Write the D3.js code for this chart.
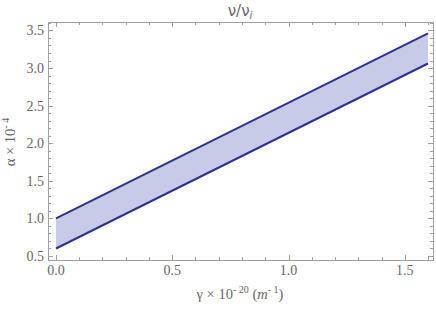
<!DOCTYPE html>
<html>
<head>
<meta charset="UTF-8">
<script src="https://cdn.jsdelivr.net/npm/d3@7"></script>
<style>
  html, body { margin: 0; padding: 0; background: #fff; }
  svg { display: block; }
</style>
</head>
<body>
<div id="chart"></div>
<script>
  // band edges
  const gamma = [0, 0.4, 0.8, 1.2, 1.6];
  const upper = [1.0, 1.615, 2.23, 2.845, 3.46];
  const lower = [0.6, 1.215, 1.83, 2.445, 3.06];
  const xTicks = [0, 0.5, 1.0, 1.5];
  const yTicks = [0.5, 1.0, 1.5, 2.0, 2.5, 3.0, 3.5];

  const W = 436, H = 309;
  const fx0 = 48, fx1 = 433, fy0 = 22, fy1 = 260;

  const x = d3.scaleLinear().domain([-0.0344, 1.6215]).range([fx0, fx1]);
  const y = d3.scaleLinear().domain([0.447, 3.612]).range([fy1, fy0]);

  const svg = d3.select('#chart').append('svg')
    .attr('width', W).attr('height', H);

  const pts = gamma.map((g, i) => ({g, lo: lower[i], hi: upper[i]}));

  svg.append('path')
    .datum(pts)
    .attr('fill', '#c6cbe8')
    .attr('d', d3.area().x(d => x(d.g)).y0(d => y(d.lo)).y1(d => y(d.hi)));

  const line = key => d3.line().x(d => x(d.g)).y(d => y(d[key]));
  ['hi', 'lo'].forEach(k => {
    svg.append('path')
      .datum(pts)
      .attr('fill', 'none')
      .attr('stroke', '#2e3192')
      .attr('stroke-width', 2)
      .attr('d', line(k));
  });

  // frame
  svg.append('rect')
    .attr('x', fx0 + 0.5).attr('y', fy0 + 0.5)
    .attr('width', fx1 - fx0).attr('height', fy1 - fy0)
    .attr('fill', 'none').attr('stroke', '#a0a0a0').attr('stroke-width', 1);

  const tickCol = '#a0a0a0';
  const g = svg.append('g').attr('stroke', tickCol).attr('stroke-width', 1);
  // x ticks (major + minor), inward on top and bottom
  d3.range(0, 1.61, 0.1).forEach(v => {
    const major = Math.abs(v * 2 - Math.round(v * 2)) < 1e-6;
    const len = major ? 5 : 3;
    const px = Math.round(x(v)) + 0.5;
    g.append('line').attr('x1', px).attr('x2', px).attr('y1', fy1).attr('y2', fy1 - len);
    g.append('line').attr('x1', px).attr('x2', px).attr('y1', fy0).attr('y2', fy0 + len);
  });
  d3.range(0.5, 3.61, 0.1).forEach(v => {
    const major = Math.abs(v * 2 - Math.round(v * 2)) < 1e-6;
    const len = major ? 5 : 3;
    const py = Math.round(y(v)) + 0.5;
    g.append('line').attr('y1', py).attr('y2', py).attr('x1', fx0).attr('x2', fx0 + len);
    g.append('line').attr('y1', py).attr('y2', py).attr('x1', fx1).attr('x2', fx1 - len);
  });

  const serif = '"Liberation Serif", "DejaVu Serif", serif';
  const labCol = '#666';

  svg.append('g').selectAll('text').data(xTicks).join('text')
    .attr('x', d => x(d)).attr('y', 275)
    .attr('text-anchor', 'middle')
    .attr('font-family', serif).attr('font-size', 14).attr('fill', labCol)
    .text(d => d.toFixed(1));

  svg.append('g').selectAll('text').data(yTicks).join('text')
    .attr('x', 44).attr('y', d => y(d) + 5)
    .attr('text-anchor', 'end')
    .attr('font-family', serif).attr('font-size', 14).attr('fill', labCol)
    .text(d => d.toFixed(1));

  // title
  const title = svg.append('text')
    .attr('x', 240).attr('y', 16).attr('text-anchor', 'middle')
    .attr('font-family', '"DejaVu Sans", sans-serif').attr('font-size', 15).attr('fill', labCol);
  title.append('tspan').text('ν/ν');
  title.append('tspan').attr('font-size', 10).attr('dy', 3).attr('font-style', 'italic').text('i');

  // x label
  const xl = svg.append('text')
    .attr('x', 240).attr('y', 299).attr('text-anchor', 'middle')
    .attr('font-family', serif).attr('font-size', 14.5).attr('fill', labCol);
  xl.append('tspan').text('γ × 10');
  xl.append('tspan').attr('font-size', 10).attr('dy', -6).text('- 20');
  xl.append('tspan').attr('dy', 6).text(' (');
  xl.append('tspan').attr('font-style', 'italic').text('m');
  xl.append('tspan').attr('font-size', 10).attr('dy', -6).text('- 1');
  xl.append('tspan').attr('dy', 6).text(')');

  // y label
  const yl = svg.append('text')
    .attr('transform', 'translate(15,142) rotate(-90)')
    .attr('text-anchor', 'middle')
    .attr('font-family', serif).attr('font-size', 14.5).attr('fill', labCol);
  yl.append('tspan').text('α × 10');
  yl.append('tspan').attr('font-size', 10).attr('dy', -6).text('- 4');
</script>
</body>
</html>
